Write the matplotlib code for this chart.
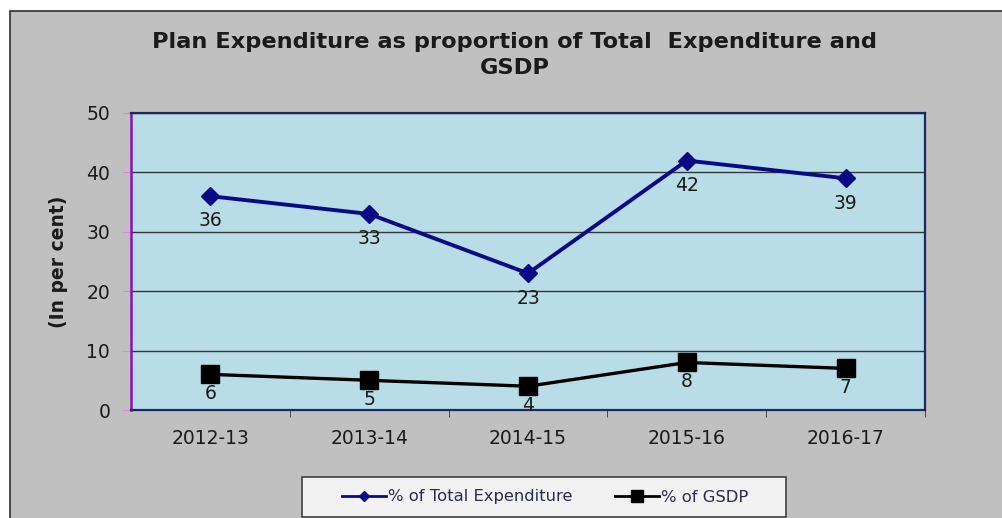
import matplotlib.pyplot as plt
from matplotlib.lines import Line2D
from matplotlib.patches import Rectangle
from matplotlib.ticker import FixedLocator, MultipleLocator

plt.rcParams['font.family'] = ['DejaVu Sans']

years = ['2012-13', '2013-14', '2014-15', '2015-16', '2016-17']
pct_total_exp = [36, 33, 23, 42, 39]
pct_gsdp = [6, 5, 4, 8, 7]

W, H = 1002, 518
fig = plt.figure(figsize=(W / 100, H / 100), dpi=100)
fig.patch.set_facecolor('white')

# grey chart area with thin border (runs off the right and bottom edge)
fig.patches.append(Rectangle((10 / W, -0.05), 1.05, 1 - 11 / H + 0.05, transform=fig.transFigure,
                             facecolor='#c0c0c0', edgecolor='#303030', lw=1.2, zorder=-5))

ax = fig.add_axes([131 / W, 1 - 410 / H, (925 - 131) / W, (410 - 113) / H])
ax.set_facecolor('#b8dde7')

blue = '#0a0a86'
x = list(range(len(years)))
ax.plot(x, pct_total_exp, '-D', color=blue, lw=2.8, ms=9, zorder=3)
ax.plot(x, pct_gsdp, '-s', color='black', lw=2.4, ms=13, zorder=3)

for xi, v in zip(x, pct_total_exp):
    ax.annotate(str(v), (xi, v), xytext=(0, -11), textcoords='offset points',
                ha='center', va='top', fontsize=13.5, color='#1a1a1a')
for xi, v in zip(x, pct_gsdp):
    ax.annotate(str(v), (xi, v), xytext=(0, -7), textcoords='offset points',
                ha='center', va='top', fontsize=13.5, color='#1a1a1a')

ax.set_xlim(-0.5, 4.5)
ax.set_ylim(0, 50)
ax.yaxis.set_major_locator(MultipleLocator(10))
ax.grid(axis='y', color='#303838', lw=1.0)
ax.set_axisbelow(True)

ax.set_xticks(x)
ax.set_xticklabels(years, fontsize=13.5, color='#1a1a1a')
ax.xaxis.set_minor_locator(FixedLocator([0.5, 1.5, 2.5, 3.5, 4.5]))
ax.tick_params(axis='x', which='major', length=0, pad=14)
ax.tick_params(axis='x', which='minor', length=5, color='#333333', direction='out')
ax.tick_params(axis='y', length=6, color='#e080e0', labelsize=13.5, labelcolor='#1a1a1a', pad=9)

for side in ['top', 'right', 'bottom']:
    ax.spines[side].set_color('#1a2a60')
    ax.spines[side].set_linewidth(1.6)
ax.spines['left'].set_color('#8a10b8')
ax.spines['left'].set_linewidth(1.8)

ax.set_ylabel('(In per cent)', fontsize=13.5, fontweight='bold', color='#1a1a1a', labelpad=13)

fig.text(515 / W, 1 - 55 / H, 'Plan Expenditure as proportion of Total  Expenditure and\nGSDP',
         ha='center', va='center', fontsize=16.2, fontweight='bold', color='#1a1a1a', linespacing=1.4)

# legend box drawn separately so its padding can be set freely
fig.patches.append(Rectangle((302 / W, 1 - 517 / H), 484 / W, 40 / H, transform=fig.transFigure,
                             facecolor='#f2f2f2', edgecolor='#404040', lw=1.2, zorder=-1))
handles = [Line2D([], [], color=blue, lw=2, marker='D', ms=5.5),
           Line2D([], [], color='black', lw=2, marker='s', ms=8)]
leg = ax.legend(handles, ['% of Total Expenditure', '% of GSDP'], loc='center',
                bbox_to_anchor=(545 / W, 1 - 497 / H), bbox_transform=fig.transFigure,
                ncol=2, fontsize=11.8, frameon=False, handlelength=2.7, columnspacing=2.6,
                handletextpad=0.1)
for t in leg.get_texts():
    t.set_color('#2a2a55')

fig.savefig('out.png', dpi=100)
